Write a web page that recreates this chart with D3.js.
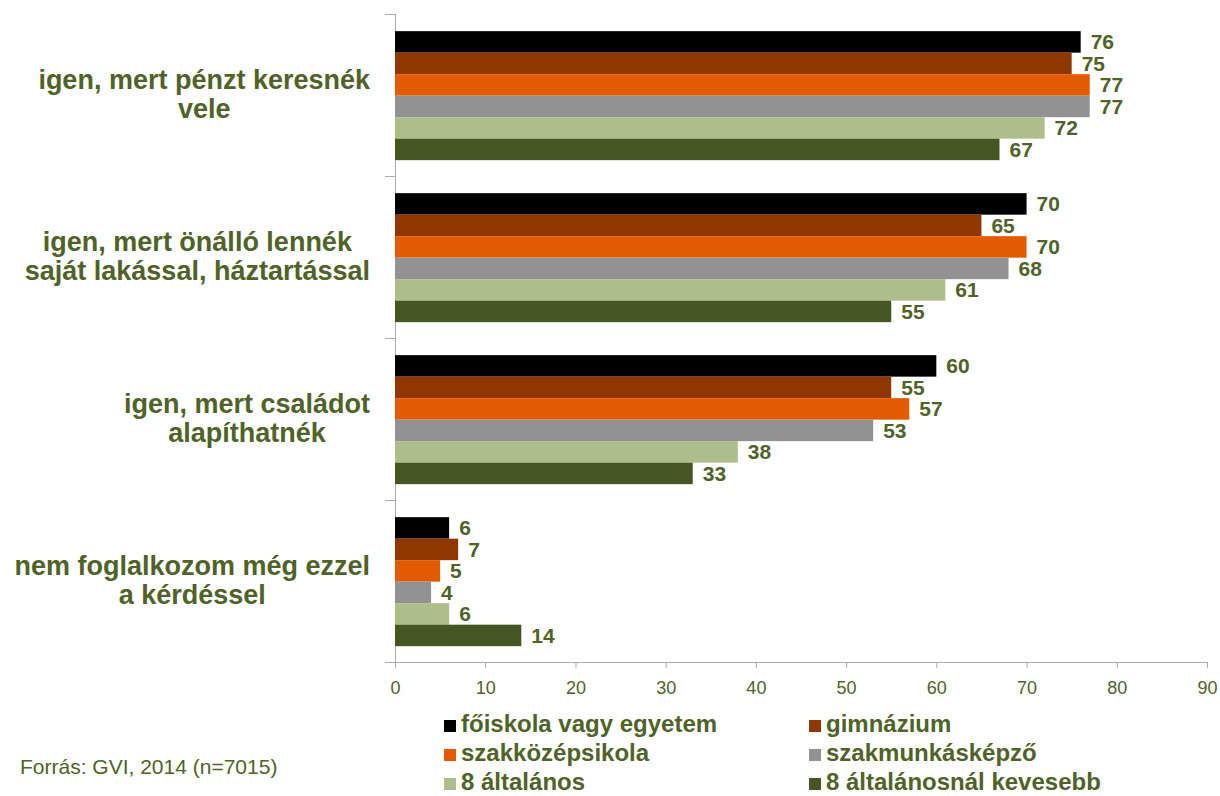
<!DOCTYPE html>
<meta charset="utf-8">
<style>
    body { margin: 0; background: #fff; }
    text { font-family: Arial, "Liberation Sans", sans-serif; fill: #4F6228; }
    .cat { font-size: 27px; font-weight: bold; }
    .val { font-size: 21px; font-weight: bold; }
    .leg { font-size: 24px; font-weight: bold; }
    .domain, .tick line { stroke: #ABABAB; }
</style>
<body>
<script src="https://d3js.org/d3.v7.min.js"></script>
<script>
    // questions (y categories), each split in two lines
    var categories = [
        ["igen, mert pénzt keresnék", "vele"],
        ["igen, mert önálló lennék", "saját lakással, háztartással"],
        ["igen, mert családot", "alapíthatnék"],
        ["nem foglalkozom még ezzel", "a kérdéssel"]
    ];
    var series = ["főiskola vagy egyetem", "gimnázium", "szakközépsikola",
                  "szakmunkásképző", "8 általános", "8 általánosnál kevesebb"];
    var colors = ["#000000", "#8E3800", "#E35B00", "#929292", "#ADBE8C", "#465623"];
    // values per series, in category order
    var felsofoku   = [76, 70, 60, 6];
    var gimnazium   = [75, 65, 55, 7];
    var szakkozep   = [77, 70, 57, 5];
    var szakmunkas  = [77, 68, 53, 4];
    var altalanos   = [72, 61, 38, 6];
    var kevesebb    = [67, 55, 33, 14];
    var values = [felsofoku, gimnazium, szakkozep, szakmunkas, altalanos, kevesebb];
    var ticks = [0, 10, 20, 30, 40, 50, 60, 70, 80, 90];
    var source = "Forrás: GVI, 2014 (n=7015)";

    var svg = d3.select("body").append("svg").attr("width", 1220).attr("height", 796);

    var x = d3.scaleLinear().domain([0, 90]).range([395, 1207]);
    var y = d3.scaleBand().domain(d3.range(categories.length)).range([14, 662]);
    var ys = d3.scaleBand().domain(d3.range(series.length))
        .range([0, y.bandwidth()]).paddingOuter(0.767).align(0.52);

    // bottom axis
    var xAxis = svg.append("g").attr("transform", "translate(0,662)")
        .call(d3.axisBottom(x).tickValues(ticks).tickSize(6).tickPadding(13));
    xAxis.select(".domain").attr("d", "M385,0.5H1207.5");
    xAxis.selectAll(".tick text")
        .style("font-size", "18px").style("fill", "#4F6228");

    // left axis: line with ticks between groups
    var yAxis = svg.append("g");
    yAxis.append("line").attr("class", "domain")
        .attr("x1", 395.5).attr("x2", 395.5).attr("y1", 14).attr("y2", 662);
    yAxis.selectAll(".sep").data(d3.range(categories.length))
        .join("line").attr("class", "domain")
        .attr("x1", 385).attr("x2", 395)
        .attr("y1", d => Math.round(y(d)) + 0.5).attr("y2", d => Math.round(y(d)) + 0.5);

    // bars
    var groups = svg.selectAll(".grp").data(categories).join("g")
        .attr("transform", (d, i) => "translate(0," + y(i) + ")");

    groups.each(function(c, ci) {
        var g = d3.select(this);
        series.forEach(function(s, si) {
            var v = values[si][ci];
            g.append("rect")
                .attr("x", x(0))
                .attr("y", ys(si))
                .attr("width", x(v) - x(0))
                .attr("height", ys.bandwidth())
                .attr("fill", colors[si]);
            g.append("text").attr("class", "val")
                .attr("x", x(v) + 10)
                .attr("y", ys(si) + ys.bandwidth() / 2)
                .attr("dy", "0.36em")
                .text(v);
        });
        // label block: lines centred to each other, block right-aligned at the axis
        var t = g.append("text").attr("class", "cat").attr("text-anchor", "middle");
        var spans = c.map(function(line, li) {
            return t.append("tspan").attr("y", 75 + li * 29).text(line);
        });
        var maxW = d3.max(spans, sp => sp.node().getComputedTextLength());
        spans.forEach(sp => sp.attr("x", 370 - maxW / 2));
    });

    // legend
    var legend = svg.append("g");
    series.forEach(function(s, i) {
        var col = i % 2, row = Math.floor(i / 2);
        var lx = col === 0 ? 444 : 809, ly = 732 + row * 29;
        legend.append("rect").attr("x", lx).attr("y", ly - 12)
            .attr("width", 12).attr("height", 12).attr("fill", colors[i]);
        legend.append("text").attr("class", "leg")
            .attr("x", lx + 17).attr("y", ly)
            .text(s);
    });

    svg.append("text")
        .attr("x", 20).attr("y", 774)
        .style("font-size", "21px")
        .text(source);
</script>
</body>
</html>
